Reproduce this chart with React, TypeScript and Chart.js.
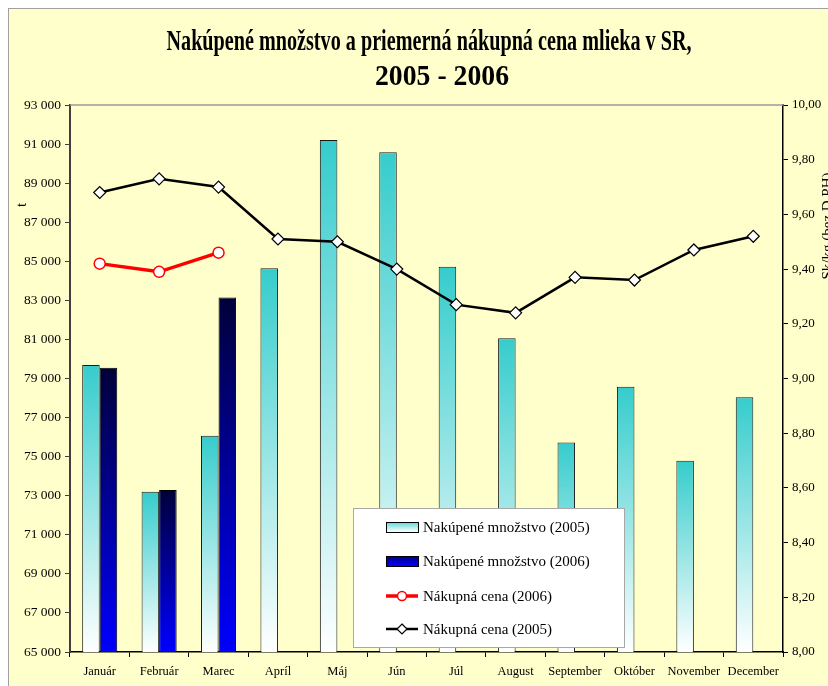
import React, { useEffect, useRef } from 'react';
import { Chart, registerables } from 'chart.js';

Chart.register(...registerables);

const months = ['Január', 'Február', 'Marec', 'Apríl', 'Máj', 'Jún', 'Júl', 'August', 'September', 'Október', 'November', 'December'];
const qty2005 = [79690, 73200, 76070, 84640, 91210, 90580, 84720, 81060, 75730, 78580, 74790, 78040];
const qty2006 = [79550, 73290, 83150, null, null, null, null, null, null, null, null, null];
const price2006 = [9.42, 9.39, 9.46, null, null, null, null, null, null, null, null, null];
const price2005 = [9.68, 9.73, 9.70, 9.51, 9.50, 9.40, 9.27, 9.24, 9.37, 9.36, 9.47, 9.52];

const titleLine1 = 'Nakúpené množstvo a priemerná nákupná cena mlieka v SR,';
const titleLine2 = '2005 - 2006';
const leftAxisTitle = 't';
const rightAxisTitle = 'Sk/kg (bez D PH)';
const legendLabels = ['Nakúpené množstvo (2005)', 'Nakúpené množstvo (2006)', 'Nákupná cena (2006)', 'Nákupná cena (2005)'];

const SERIF = '"Liberation Serif", "Times New Roman", serif';

const fmtThousands = (v: number) => Math.round(v).toString().replace(/\B(?=(\d{3})+(?!\d))/g, ' ');

function barGradient(top: string, bottom: string) {
  return (ctx: any) => {
    const chart = ctx.chart;
    const y = chart.scales && chart.scales.y;
    if (!y || ctx.type !== 'data' || ctx.raw == null) return top;
    const t = y.getPixelForValue(ctx.raw);
    const b = y.getPixelForValue(y.min);
    if (!isFinite(t) || !isFinite(b) || Math.abs(b - t) < 1) return top;
    const g = chart.ctx.createLinearGradient(0, t, 0, b);
    g.addColorStop(0, top);
    g.addColorStop(1, bottom);
    return g;
  };
}

function drawCondensed(ctx: CanvasRenderingContext2D, text: string, cx: number, by: number, target: number) {
  const w = ctx.measureText(text).width;
  const sx = target / w;
  ctx.save();
  ctx.translate(cx, by);
  ctx.scale(sx, 1);
  ctx.textAlign = 'center';
  ctx.textBaseline = 'alphabetic';
  ctx.fillText(text, 0, 0);
  ctx.restore();
}

const decorPlugin = {
  id: 'decor',
  beforeDatasetsDraw(chart: any) {
    const { ctx, chartArea } = chart;
    ctx.save();
    ctx.strokeStyle = '#9A9A9A';
    ctx.lineWidth = 1.5;
    ctx.beginPath();
    ctx.moveTo(chartArea.left, chartArea.top);
    ctx.lineTo(chartArea.right, chartArea.top);
    ctx.stroke();
    ctx.restore();
  },
  afterDraw(chart: any) {
    const ctx: CanvasRenderingContext2D = chart.ctx;
    ctx.save();
    // Title
    ctx.fillStyle = '#000';
    ctx.font = `bold 30px ${SERIF}`;
    drawCondensed(ctx, titleLine1, 420, 41, 525);
    drawCondensed(ctx, titleLine2, 433, 76, 134);

    // Axis titles
    ctx.font = `15px ${SERIF}`;
    ctx.textAlign = 'center';
    ctx.textBaseline = 'alphabetic';
    ctx.save();
    ctx.translate(17, 196);
    ctx.rotate(-Math.PI / 2);
    ctx.fillText(leftAxisTitle, 0, 0);
    ctx.restore();
    ctx.save();
    ctx.translate(823, 217);
    ctx.rotate(-Math.PI / 2);
    ctx.fillText(rightAxisTitle, 0, 0);
    ctx.restore();

    // Legend
    const bx = 344, by = 499, bw = 271, bh = 139;
    ctx.fillStyle = '#FFFFFF';
    ctx.fillRect(bx, by, bw, bh);
    ctx.strokeStyle = '#A8A8A8';
    ctx.lineWidth = 1;
    ctx.strokeRect(bx + 0.5, by + 0.5, bw, bh);

    const rows = [518, 552, 587, 620];
    const ix = 377, iw = 32, tx = 414;
    // row 1
    let y = rows[0];
    let g = ctx.createLinearGradient(0, y - 5, 0, y + 5);
    g.addColorStop(0, '#5CD6D6');
    g.addColorStop(1, '#FFFFFF');
    ctx.fillStyle = g;
    ctx.fillRect(ix, y - 5, iw, 10);
    ctx.strokeStyle = '#000';
    ctx.lineWidth = 1;
    ctx.strokeRect(ix + 0.5, y - 4.5, iw, 10);
    // row 2
    y = rows[1];
    g = ctx.createLinearGradient(0, y - 5, 0, y + 5);
    g.addColorStop(0, '#000080');
    g.addColorStop(1, '#0000FF');
    ctx.fillStyle = g;
    ctx.fillRect(ix, y - 5, iw, 10);
    ctx.strokeStyle = '#000';
    ctx.strokeRect(ix + 0.5, y - 4.5, iw, 10);
    // row 3
    y = rows[2];
    ctx.strokeStyle = '#FF0000';
    ctx.lineWidth = 3.5;
    ctx.beginPath();
    ctx.moveTo(ix, y);
    ctx.lineTo(ix + iw, y);
    ctx.stroke();
    ctx.beginPath();
    ctx.arc(ix + iw / 2, y, 4.5, 0, Math.PI * 2);
    ctx.fillStyle = '#FFFFFF';
    ctx.fill();
    ctx.lineWidth = 1.5;
    ctx.stroke();
    // row 4
    y = rows[3];
    ctx.strokeStyle = '#000';
    ctx.lineWidth = 2.5;
    ctx.beginPath();
    ctx.moveTo(ix, y);
    ctx.lineTo(ix + iw, y);
    ctx.stroke();
    const cx = ix + iw / 2, r = 5;
    ctx.beginPath();
    ctx.moveTo(cx, y - r);
    ctx.lineTo(cx + r, y);
    ctx.lineTo(cx, y + r);
    ctx.lineTo(cx - r, y);
    ctx.closePath();
    ctx.fillStyle = '#FFFFFF';
    ctx.fill();
    ctx.lineWidth = 1.2;
    ctx.stroke();

    ctx.fillStyle = '#000';
    ctx.font = `15px ${SERIF}`;
    ctx.textAlign = 'left';
    ctx.textBaseline = 'middle';
    legendLabels.forEach((l, i) => ctx.fillText(l, tx, rows[i] + 1));
    ctx.restore();
  },
};

export default function App() {
  const ref = useRef<HTMLCanvasElement | null>(null);
  useEffect(() => {
    if (!ref.current) return;
    const chart = new Chart(ref.current, {
      type: 'bar',
      data: {
        labels: months,
        datasets: [
          {
            type: 'line',
            label: legendLabels[3],
            data: price2005,
            yAxisID: 'y1',
            order: 0,
            borderColor: '#000000',
            borderWidth: 2.5,
            pointStyle: 'rectRot',
            pointRadius: 6,
            pointBackgroundColor: '#FFFFFF',
            pointBorderColor: '#000000',
            pointBorderWidth: 1.2,
            tension: 0,
          } as any,
          {
            type: 'line',
            label: legendLabels[2],
            data: price2006,
            yAxisID: 'y1',
            order: 1,
            borderColor: '#FF0000',
            borderWidth: 3.5,
            pointStyle: 'circle',
            pointRadius: 5.5,
            pointBackgroundColor: '#FFFFFF',
            pointBorderColor: '#FF0000',
            pointBorderWidth: 1.5,
            tension: 0,
          } as any,
          {
            type: 'bar',
            label: legendLabels[0],
            data: qty2005,
            yAxisID: 'y',
            order: 2,
            backgroundColor: barGradient('#36CCCC', '#FFFFFF'),
            borderColor: '#1A1A1A',
            borderWidth: 1,
            barPercentage: 1,
            categoryPercentage: 0.59,
          } as any,
          {
            type: 'bar',
            label: legendLabels[1],
            data: qty2006,
            yAxisID: 'y',
            order: 2,
            backgroundColor: barGradient('#00003A', '#0000FF'),
            borderColor: '#000000',
            borderWidth: 1,
            barPercentage: 1,
            categoryPercentage: 0.59,
          } as any,
        ],
      },
      options: {
        animation: false,
        responsive: false,
        maintainAspectRatio: false,
        devicePixelRatio: 1,
        layout: { padding: { top: 96, left: 0, right: 0, bottom: 0 } },
        plugins: {
          legend: { display: false },
          title: { display: false },
          tooltip: { enabled: false },
        },
        scales: {
          x: {
            offset: true,
            grid: { display: true, drawOnChartArea: false, drawTicks: true, tickLength: 5, color: '#000', lineWidth: 1, offset: true },
            border: { display: true, color: '#000', width: 1.5 },
            ticks: { color: '#000', font: { family: SERIF, size: 12.5 }, padding: 7, maxRotation: 0, autoSkip: false },
            afterFit: (s: any) => { s.height = 34; },
          },
          y: {
            position: 'left',
            min: 65000,
            max: 93000,
            ticks: { stepSize: 2000, callback: (v: any) => fmtThousands(Number(v)), color: '#000', font: { family: SERIF, size: 13.5 }, padding: 4 },
            grid: { drawOnChartArea: false, drawTicks: true, tickLength: 5, color: '#404040' },
            border: { display: true, color: '#404040', width: 2 },
            afterFit: (s: any) => { s.width = 61; },
          },
          y1: {
            position: 'right',
            min: 8,
            max: 10,
            ticks: { stepSize: 0.2, callback: (v: any) => Number(v).toFixed(2).replace('.', ','), color: '#000', font: { family: SERIF, size: 13 }, padding: 4 },
            grid: { drawOnChartArea: false, drawTicks: true, tickLength: 5, color: '#000' },
            border: { display: true, color: '#000', width: 1.5 },
            afterFit: (s: any) => { s.width = 45; },
          },
        },
      } as any,
      plugins: [decorPlugin],
    });
    return () => chart.destroy();
  }, []);

  return (
    <div
      style={{
        position: 'fixed',
        left: 8,
        top: 8,
        width: 819,
        height: 677,
        background: '#FFFFCC',
        borderTop: '1px solid #A0A0A0',
        borderLeft: '1px solid #A0A0A0',
        overflow: 'hidden',
      }}
    >
      <canvas ref={ref} width={819} height={677} style={{ display: 'block', width: 819, height: 677 }} />
    </div>
  );
}
